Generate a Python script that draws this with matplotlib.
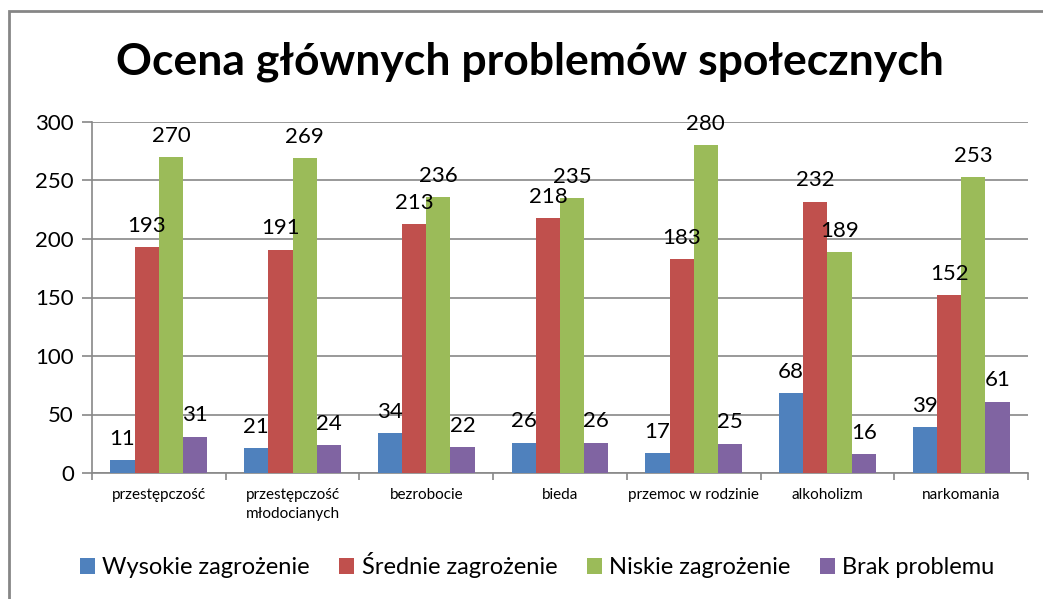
import numpy as np
import matplotlib.pyplot as plt
from matplotlib.patches import Rectangle

plt.rcParams['font.family'] = ['Lato', 'DejaVu Sans']

categories = ['przestępczość', 'przestępczość\nmłodocianych', 'bezrobocie', 'bieda',
              'przemoc w rodzinie', 'alkoholizm', 'narkomania']
series_names = ['Wysokie zagrożenie', 'Średnie zagrożenie', 'Niskie zagrożenie', 'Brak problemu']
wysokie = [11, 21, 34, 26, 17, 68, 39]
srednie = [193, 191, 213, 218, 183, 232, 152]
niskie = [270, 269, 236, 235, 280, 189, 253]
brak = [31, 24, 22, 26, 25, 16, 61]
colors = ['#4F81BD', '#C0504D', '#9BBB59', '#8064A2']

fig = plt.figure(figsize=(10.43, 5.99), dpi=100)
ax = fig.add_axes([92 / 1043, 1 - 473 / 599, (1028 - 92) / 1043, (473 - 122) / 599])

x = np.arange(len(categories))
bw = 0.181
all_series = [wysokie, srednie, niskie, brak]
for i, (vals, name, col) in enumerate(zip(all_series, series_names, colors)):
    pos = x + (i - 1.5) * bw
    ax.bar(pos, vals, width=bw, color=col, label=name, zorder=3)
    for xp, v in zip(pos, vals):
        ax.annotate(str(v), (xp, v), xytext=(0, 11), textcoords='offset points',
                    ha='center', va='baseline', fontsize=16, color='black', zorder=4)

ax.set_xlim(-0.5, len(categories) - 0.5)
ax.set_ylim(0, 300)
ax.set_yticks(range(0, 301, 50))
ax.yaxis.grid(True, color='#888888', linewidth=1.2, zorder=0)
ax.set_axisbelow(True)

# category labels in the middle, tick marks between groups
ax.set_xticks(np.arange(-0.5, len(categories), 1))
ax.set_xticklabels([])
ax.set_xticks(x, minor=True)
ax.set_xticklabels(categories, minor=True, fontsize=11, linespacing=1.4)
ax.tick_params(axis='x', which='minor', length=0, pad=11)
ax.tick_params(axis='x', which='major', length=5, color='#888888', width=1.2)
ax.tick_params(axis='y', length=7, color='#888888', width=1.2, labelsize=16, pad=6)

for s in ['top', 'right']:
    ax.spines[s].set_visible(False)
for s in ['left', 'bottom']:
    ax.spines[s].set_color('#888888')
    ax.spines[s].set_linewidth(1.2)

fig.text(0.508, 1 - 62 / 599, 'Ocena głównych problemów społecznych', ha='center', va='center',
         fontsize=32, fontweight='bold')

fig.legend(loc='center', bbox_to_anchor=(0.515, 1 - 565 / 599), ncol=4, frameon=False,
           fontsize=17, handlelength=0.65, handleheight=0.65, handletextpad=0.3,
           columnspacing=1.25)

fig.patches.append(Rectangle((8.5 / 1043, -0.1), 1.2, (599 - 10.5) / 599 + 0.1,
                             transform=fig.transFigure, fill=False,
                             edgecolor='#868686', linewidth=2))

fig.savefig('out.png', dpi=100)
